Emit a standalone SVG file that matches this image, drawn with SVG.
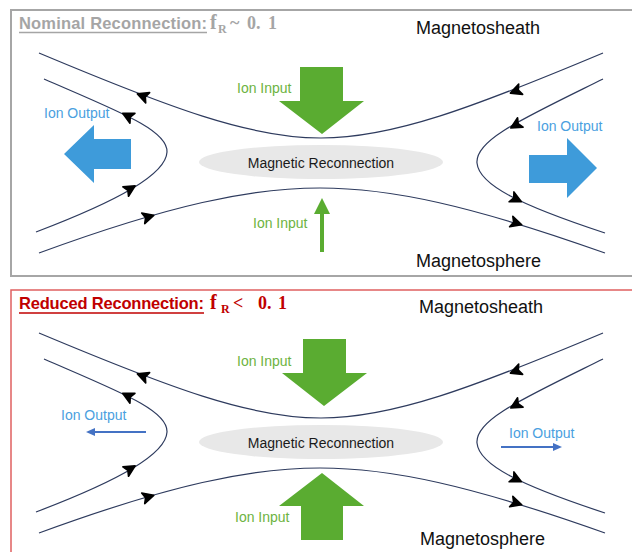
<svg xmlns="http://www.w3.org/2000/svg" xmlns:xlink="http://www.w3.org/1999/xlink" width="632" height="552" viewBox="0 0 632 552">
<style>
.fl{fill:none;stroke:#2e3b5e;stroke-width:1.2}
.ah{fill:#000;stroke:#000;stroke-width:1.6;stroke-linejoin:round}
.lbl{font-family:"Liberation Sans",Arial,sans-serif}
.mag{font-size:18px;fill:#111}
.out{font-size:14px;fill:#4a9fe0}
.inp{font-size:14px;fill:#6db33f}
.mr{font-size:14px;fill:#1a1a1a}
.big-blue{fill:#3e9bda}
.green{fill:#5aac31}
.thin{stroke:#4472c4;stroke-width:2;fill:none}
.math{font-family:"Liberation Serif","Times New Roman",serif;font-weight:bold;font-size:18px}
</style>
<defs>
<path id="ah" d="M6,0 L-5,-5.5 L-2.5,0 L-5,5.5 Z"/>
<g id="fieldlines">
<path class="fl" d="M39,53 C170,108 250,138 321,138 C392,138 472,108 603,53"/>
<path class="fl" d="M44,79 C120,112 168,130 167,152 C166,174 120,200 36,232"/>
<path class="fl" d="M603,79 C520,120 475,140 477,163 C479,185 520,205 605,233"/>
<path class="fl" d="M39,253 C170,205 250,188 320,188 C390,188 470,205 605,253"/>
<use xlink:href="#ah" class="ah" transform="translate(143,96) rotate(201)"/>
<use xlink:href="#ah" class="ah" transform="translate(128,116) rotate(207)"/>
<use xlink:href="#ah" class="ah" transform="translate(130,189) rotate(-31)"/>
<use xlink:href="#ah" class="ah" transform="translate(148,217) rotate(-16)"/>
<use xlink:href="#ah" class="ah" transform="translate(516,91) rotate(159)"/>
<use xlink:href="#ah" class="ah" transform="translate(516,125) rotate(150)"/>
<use xlink:href="#ah" class="ah" transform="translate(516,199) rotate(26)"/>
<use xlink:href="#ah" class="ah" transform="translate(516,223) rotate(17)"/>
</g>
</defs>

<g id="panel-nominal">
<rect x="11" y="10" width="640" height="266" fill="none" stroke="#a6a6a6" stroke-width="2"/>
<text class="lbl" x="19" y="29" font-size="16.5" font-weight="bold" fill="#a5a5a5" textLength="188">Nominal Reconnection:</text>
<line x1="19" y1="32.5" x2="207" y2="32.5" stroke="#a5a5a5" stroke-width="1.3"/>
<text class="math" fill="#a5a5a5" y="29"><tspan x="210" font-size="20">f</tspan><tspan x="218" y="33" font-size="12">R</tspan><tspan x="230" y="29">~</tspan><tspan x="247">0.</tspan><tspan x="268">1</tspan></text>
</g>

<g id="panel-reduced">
<rect x="11" y="290" width="640" height="280" fill="none" stroke="#e06060" stroke-width="1.5"/>
<text class="lbl" x="19" y="309" font-size="16.5" font-weight="bold" fill="#c00000" textLength="185">Reduced Reconnection:</text>
<line x1="19" y1="313" x2="204" y2="313" stroke="#c00000" stroke-width="1.3"/>
<text class="math" fill="#c00000" y="309"><tspan x="210" font-size="20">f</tspan><tspan x="221" y="313" font-size="12">R</tspan><tspan x="233" y="309">&lt;</tspan><tspan x="258">0.</tspan><tspan x="278">1</tspan></text>
</g>

<g id="connectors">
<use xlink:href="#fieldlines"/>
<use xlink:href="#fieldlines" transform="translate(0,280)"/>
</g>

<g id="mr-top">
<ellipse cx="321" cy="162" rx="122" ry="17" fill="#e8e8e8"/>
<text class="lbl mr" x="321" y="168" text-anchor="middle">Magnetic Reconnection</text>
</g>
<g id="mr-bottom">
<ellipse cx="321" cy="442" rx="122" ry="17" fill="#e8e8e8"/>
<text class="lbl mr" x="321" y="448" text-anchor="middle">Magnetic Reconnection</text>
</g>

<g id="sheath-top"><text class="lbl mag" x="416" y="34">Magnetosheath</text></g>
<g id="sphere-top"><text class="lbl mag" x="416" y="267">Magnetosphere</text></g>
<g id="sheath-bottom"><text class="lbl mag" x="419" y="313">Magnetosheath</text></g>
<g id="sphere-bottom"><text class="lbl mag" x="420" y="545">Magnetosphere</text></g>

<g id="input-top-upper">
<polygon class="green" points="300,67 343,67 343,101 364,101 322,134 279,101 300,101"/>
<text class="lbl inp" x="237" y="93">Ion Input</text>
</g>
<g id="input-top-lower">
<rect class="green" x="320" y="212" width="4" height="40"/>
<polygon class="green" points="322,198 314,214 330,214"/>
<text class="lbl inp" x="253" y="228">Ion Input</text>
</g>
<g id="output-top-left">
<polygon class="big-blue" points="64,154 94,125 94,139 131,139 131,169 94,169 94,183"/>
<text class="lbl out" x="44" y="118">Ion Output</text>
</g>
<g id="output-top-right">
<polygon class="big-blue" points="529,155 567,155 567,138 597,168 567,198 567,183 529,183"/>
<text class="lbl out" x="537" y="131">Ion Output</text>
</g>

<g id="input-bottom-upper">
<polygon class="green" points="303,339 346,339 346,373 367,373 324,406 282,373 303,373"/>
<text class="lbl inp" x="237" y="366">Ion Input</text>
</g>
<g id="input-bottom-lower">
<polygon class="green" points="322,473 364,506 343,506 343,540 301,540 301,506 279,506"/>
<text class="lbl inp" x="235" y="522">Ion Input</text>
</g>
<g id="output-bottom-left">
<line class="thin" x1="146" y1="432" x2="94" y2="432"/>
<polygon fill="#4472c4" points="86,432 95,428 95,436"/>
<text class="lbl out" x="61" y="420">Ion Output</text>
</g>
<g id="output-bottom-right">
<line class="thin" x1="501" y1="447" x2="554" y2="447"/>
<polygon fill="#4472c4" points="562,447 553,443 553,451"/>
<text class="lbl out" x="509" y="438">Ion Output</text>
</g>
</svg>
